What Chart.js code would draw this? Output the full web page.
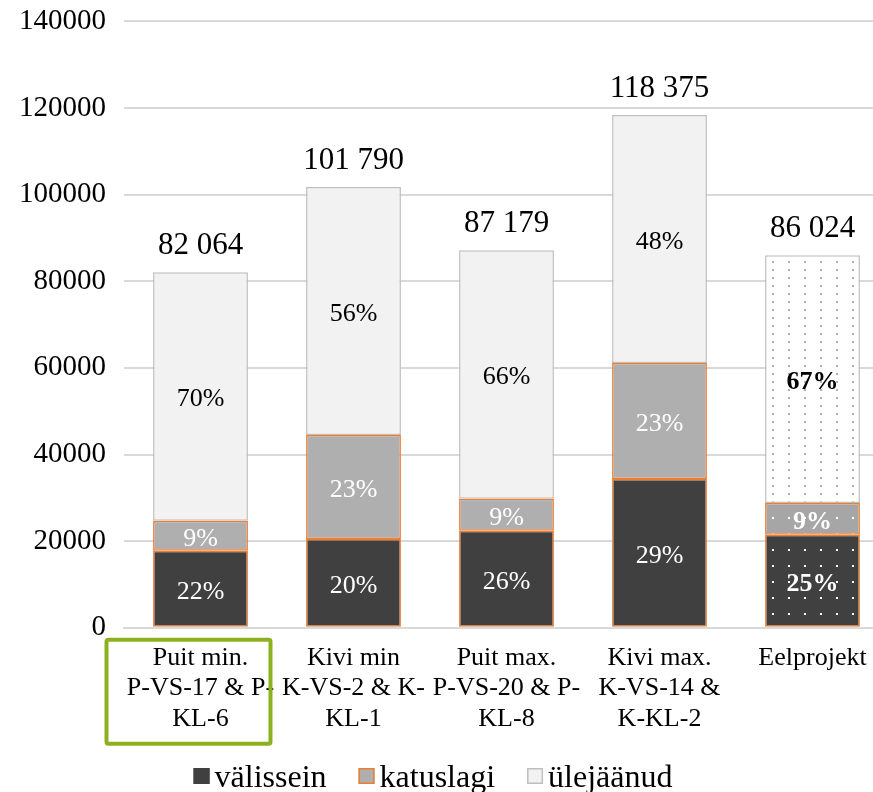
<!DOCTYPE html>
<html><head><meta charset="utf-8">
<script src="https://cdn.jsdelivr.net/npm/chart.js@4"></script>
<style>
html,body{margin:0;padding:0;background:#fff;overflow:hidden;}
#wrap{width:889px;height:806px;position:relative;margin-top:-14px;}
</style></head>
<body><div id="wrap"><canvas id="c"></canvas></div>
<script>
const categories = [
  ["Puit min.", "P-VS-17 & P-", "KL-6"],
  ["Kivi min", "K-VS-2 & K-", "KL-1"],
  ["Puit max.", "P-VS-20 & P-", "KL-8"],
  ["Kivi max.", "K-VS-14 &", "K-KL-2"],
  ["Eelprojekt"]
];
const seriesNames = ["välissein", "katuslagi", "ülejäänud"];
const valissein = [17800, 20500, 22370, 34360, 21450];
const katuslagi = [6900, 24000, 7400, 26750, 7380];
const ulejaanud = [57364, 57290, 57409, 57265, 57194];
const totalLabels = ["82 064", "101 790", "87 179", "118 375", "86 024"];
const pctValissein = ["22%", "20%", "26%", "29%", "25%"];
const pctKatuslagi = ["9%", "23%", "9%", "23%", "9%"];
const pctUlejaanud = ["70%", "56%", "66%", "48%", "67%"];
const yTicks = [0, 20000, 40000, 60000, 80000, 100000, 120000, 140000];

const FONT = "'Liberation Serif', 'Times New Roman', serif";

function dotPattern(bg, dot, w, h) {
  const c = document.createElement('canvas');
  c.width = w; c.height = h;
  const g = c.getContext('2d');
  g.fillStyle = bg; g.fillRect(0, 0, w, h);
  g.fillStyle = dot;
  g.fillRect(4, 3, 2, 2);
  return g.createPattern(c, 'repeat');
}
const ctx = document.getElementById('c').getContext('2d');
const patDark = dotPattern('#404040', '#ffffff', 16, 16);
const patGrey = dotPattern('#a6a6a6', '#ffffff', 16, 16);
const patLight = dotPattern('#ffffff', '#b0b0b0', 16, 8);

function fills(solid, pat) { return categories.map((_, i) => i === categories.length - 1 ? pat : solid); }

const pctArrays = [pctValissein, pctKatuslagi, pctUlejaanud];
const pctColors = ['#ffffff', '#ffffff', '#000000'];
const legendFill = ['#404040', '#afafaf', '#f2f2f2'];
const legendStroke = ['#404040', '#ED7D31', '#BFBFBF'];

const labelPlugin = {
  id: 'labels',
  afterDatasetsDraw(chart) {
    const c = chart.ctx;
    c.save();
    c.textAlign = 'center';
    c.textBaseline = 'middle';
    chart.data.datasets.forEach((ds, di) => {
      const meta = chart.getDatasetMeta(di);
      meta.data.forEach((el, i) => {
        const bold = i === categories.length - 1;
        c.font = (bold ? 'bold ' : '') + '26px ' + FONT;
        c.fillStyle = pctColors[di];
        const yMid = (el.y + el.base) / 2;
        c.fillText(pctArrays[di][i], el.x, yMid + 3);
      });
    });
    const topMeta = chart.getDatasetMeta(chart.data.datasets.length - 1);
    c.font = '31px ' + FONT;
    c.fillStyle = '#000';
    c.textBaseline = 'alphabetic';
    topMeta.data.forEach((el, i) => {
      c.fillText(totalLabels[i], el.x, el.y - 18);
    });
    c.restore();
  },
  afterDraw(chart) {
    const c = chart.ctx;
    const xs = chart.scales.x;
    const cx = xs.getPixelForValue(0);
    const top = chart.chartArea.bottom + 12;
    c.save();
    c.strokeStyle = '#8DB11E';
    c.lineWidth = 4;
    c.beginPath();
    if (c.roundRect) c.roundRect(cx - 94, top, 164, 104, 2); else c.rect(cx - 94, top, 164, 104);
    c.stroke();
    // legend
    c.font = '32px ' + FONT;
    c.textBaseline = 'alphabetic';
    c.textAlign = 'left';
    const box = 16, gapText = 5, gapItem = 32;
    const widths = seriesNames.map(n => c.measureText(n).width);
    const total = widths.reduce((a, w) => a + box + gapText + w, 0) + gapItem * (seriesNames.length - 1);
    let x = 433 - total / 2;
    const boxTop = 782, baseline = 801;
    seriesNames.forEach((n, i) => {
      c.fillStyle = legendFill[i];
      c.fillRect(x, boxTop, box, box);
      c.strokeStyle = legendStroke[i];
      c.lineWidth = 1.5;
      c.strokeRect(x + 0.75, boxTop + 0.75, box - 1.5, box - 1.5);
      c.fillStyle = '#000';
      c.fillText(n, x + box + gapText, baseline);
      x += box + gapText + widths[i] + gapItem;
    });
    c.restore();
  }
};

new Chart(ctx, {
  type: 'bar',
  data: {
    labels: categories,
    datasets: [
      { label: seriesNames[0], data: valissein, backgroundColor: fills('#404040', patDark), borderColor: '#ED7D31', borderWidth: 1.5, borderSkipped: false },
      { label: seriesNames[1], data: katuslagi, backgroundColor: fills('#afafaf', patGrey), borderColor: '#ED7D31', borderWidth: 1.5, borderSkipped: false },
      { label: seriesNames[2], data: ulejaanud, backgroundColor: fills('#f2f2f2', patLight), borderColor: '#BFBFBF', borderWidth: 1.5, borderSkipped: false }
    ]
  },
  options: {
    responsive: true,
    maintainAspectRatio: false,
    animation: false,
    devicePixelRatio: 1,
    layout: { padding: { top: 0, bottom: 43, left: 0, right: 0 } },
    datasets: { bar: { barPercentage: 0.62, categoryPercentage: 1.0 } },
    scales: {
      x: {
        stacked: true,
        grid: { display: false, drawTicks: false },
        border: { display: true, color: '#d9d9d9', width: 2 },
        ticks: { color: '#000', font: { family: FONT, size: 26, lineHeight: 1.17 }, autoSkip: false, maxRotation: 0, minRotation: 0, padding: 15 }
      },
      y: {
        stacked: true,
        min: 0, max: 140000,
        afterBuildTicks(scale) { scale.ticks = yTicks.map(v => ({ value: v })); },
        afterFit(scale) { scale.width = 124; },
        grid: { color: '#d9d9d9', lineWidth: 2, drawTicks: false },
        border: { display: false },
        ticks: { color: '#000', font: { family: FONT, size: 29 }, padding: 18, callback: v => String(v) }
      }
    },
    plugins: {
      tooltip: { enabled: false },
      legend: { display: false }
    }
  },
  plugins: [labelPlugin]
});
</script>
</body></html>
